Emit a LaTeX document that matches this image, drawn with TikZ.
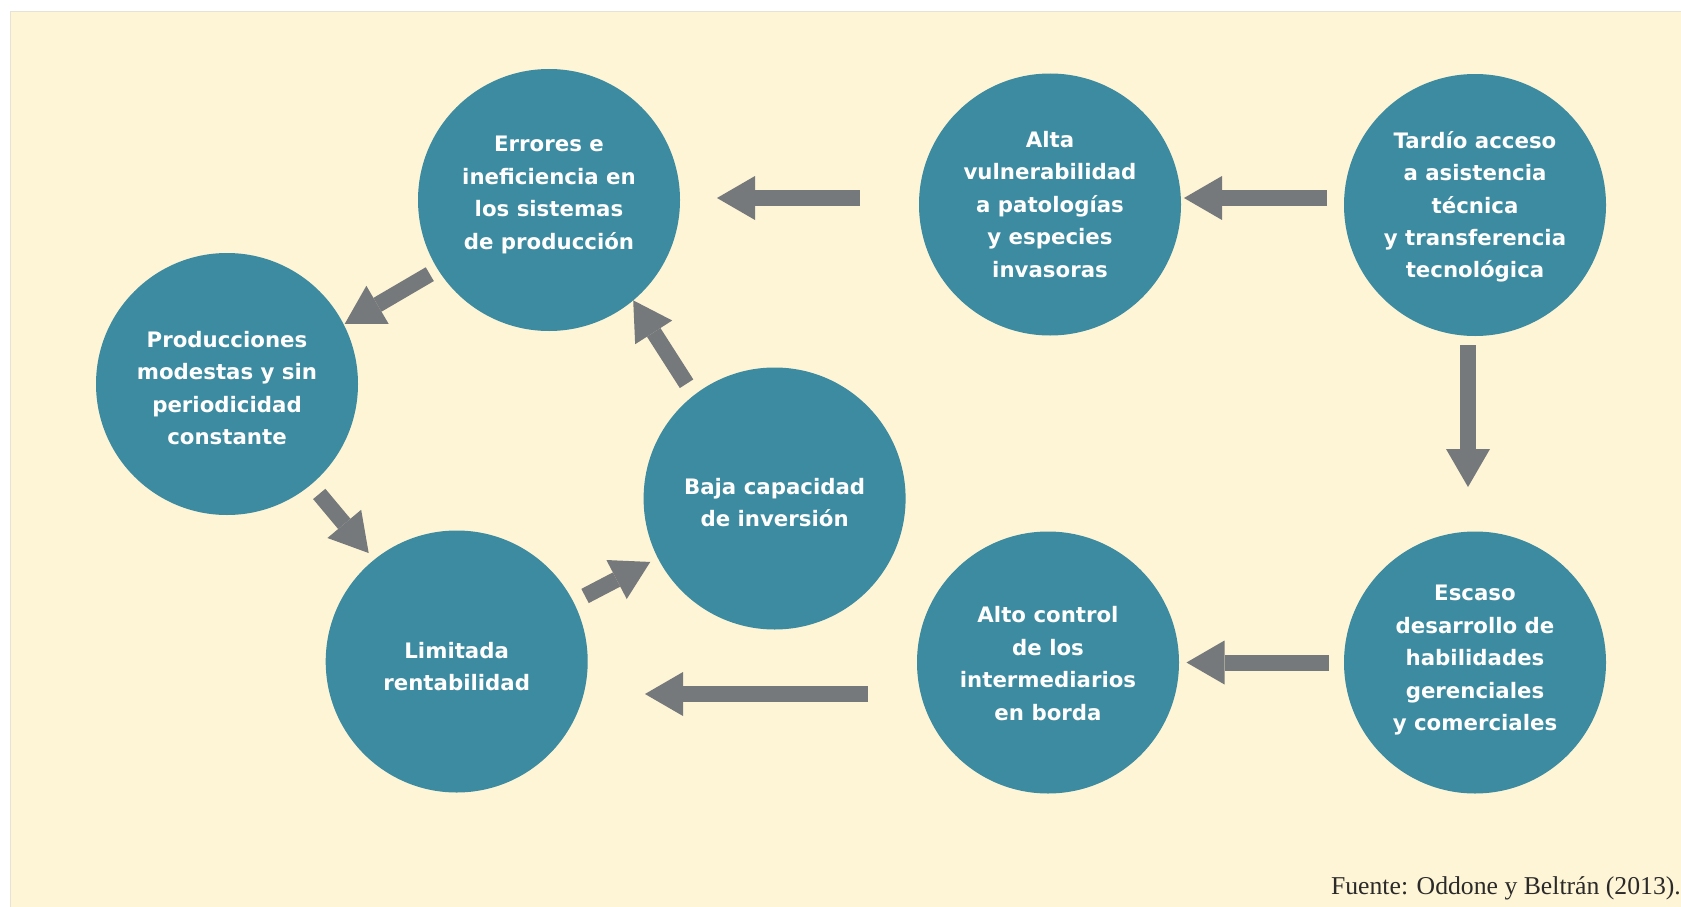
\documentclass[tikz,border=0pt]{standalone}
\usepackage{fontspec}
\setmainfont{Liberation Serif}
\newfontfamily\circfont{DejaVu Sans}
\usetikzlibrary{arrows.meta}
\definecolor{bgcream}{HTML}{FEF5D7}
\definecolor{bgedge}{HTML}{E6E2D6}
\definecolor{circteal}{HTML}{3C8BA0}
\definecolor{arrgray}{HTML}{76797C}
\definecolor{srcgray}{HTML}{2B2A29}
\begin{document}
\begin{tikzpicture}[x=1pt,y=-1pt,
  circ/.style={circle, fill=circteal, minimum size=262pt, inner sep=0pt, outer sep=0pt},
  lbl/.style={text=white, align=center, inner sep=0pt,
    font=\circfont\bfseries\fontsize{21.3}{32.4}\selectfont,
    execute at begin node={\rule{0pt}{30pt}},
    execute at end node={\rule[-30pt]{0pt}{30pt}}},
  fat/.style={draw=arrgray, line width=16pt,
    -{Triangle[length=38pt,width=44pt,line width=0pt]}},
  srcnote/.style={anchor=base east, inner sep=0pt, text=srcgray,
    font=\fontsize{25.7}{30}\selectfont}
]
\useasboundingbox (0,0) rectangle (1681,907);
\fill[bgcream] (10,11) rectangle (1700,930);
\draw[bgedge, line width=1pt] (10.5,930) -- (10.5,11.5) -- (1700,11.5);

% circles
\node[circ] (c1) at (549,200) {};
\node[circ] (c2) at (1050,204.5) {};
\node[circ] (c3) at (1475,205) {};
\node[circ] (c4) at (227,384) {};
\node[circ] (c5) at (774.6,498.5) {};
\node[circ] (c6) at (456.7,661.5) {};
\node[circ] (c7) at (1048,662.5) {};
\node[circ] (c8) at (1475,662.5) {};

% labels
\node[lbl] (t1) at (549,207.8) {Errores e\\ineficiencia en\\los sistemas\\de producción};
\node[lbl] (t2) at (1050,219.2) {Alta\\vulnerabilidad\\a patologías\\y especies\\invasoras};
\node[lbl] (t3) at (1475,219.5) {Tardío acceso\\a asistencia\\técnica\\y transferencia\\tecnológica};
\node[lbl] (t4) at (227,402.8) {Producciones\\modestas y sin\\periodicidad\\constante};
\node[lbl] (t5) at (774.6,517.5) {Baja capacidad\\de inversión};
\node[lbl] (t6) at (456.7,681.5) {Limitada\\rentabilidad};
\node[lbl] (t7) at (1048,678.5) {Alto control\\de los\\intermediarios\\en borda};
\node[lbl] (t8) at (1475,672.9) {Escaso\\desarrollo de\\habilidades\\gerenciales\\y comerciales};

% arrows
\draw[fat, shorten <=190pt, shorten >=168pt] ([yshift=6.5pt]c2.center) -- ([yshift=2pt]c1.center);
\draw[fat, shorten <=148pt, shorten >=134pt] ([yshift=7pt]c3.center) -- ([yshift=6.5pt]c2.center);
\draw[fat, shorten <=140pt, shorten >=175.5pt] ([xshift=-7pt]c3.center) -- ([xshift=-7pt]c8.center);
\draw[fat, shorten <=146pt, shorten >=138.5pt] (c8.center) -- (c7.center);
\draw[fat, shorten <=180pt, shorten >=188.3pt] ([yshift=-31.5pt]c7.center) -- ([yshift=-32.5pt]c6.center);
\draw[fat, shorten <=9.4pt, shorten >=1.1pt] (c1.212.3) -- (c4.27.36);
\draw[fat, shorten <=13.7pt] (c5.128.35) -- (c1.310.13);
\draw[fat, shorten <=12.5pt, shorten >=8.7pt] (c4.310.56) -- (c6.129.25);
\draw[fat, shorten <=13.1pt, shorten >=8.6pt] (c6.27.49) -- (c5.207.67);

\node[srcnote] (src) at (1681,894) {Fuente: Oddone y Beltrán (2013).};
\end{tikzpicture}
\end{document}
